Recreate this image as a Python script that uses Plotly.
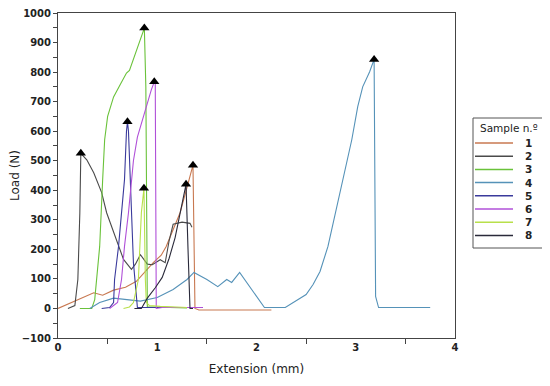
import plotly.graph_objects as go

names = ["1", "2", "3", "4", "5", "6", "7", "8"]
colors = ["#c87850", "#4a4a4a", "#6ac23a", "#5592b8", "#3a3a9c", "#b050d8", "#b8e04a", "#2a2a3a"]

s1_x = [0, 0.36, 0.45, 0.56, 0.68, 0.79, 0.96, 1.04, 1.09, 1.23, 1.30, 1.36, 1.38, 1.42, 2.15]
s1_y = [0, 53, 45, 62, 72, 92, 155, 180, 210, 324, 410, 485, 0, -5, -5]

s2_x = [0.10, 0.17, 0.20, 0.22, 0.23, 0.29, 0.36, 0.44, 0.49, 0.56, 0.61, 0.66, 0.74, 0.78, 0.83, 0.90, 0.95, 1.03, 1.08, 1.12, 1.16, 1.25, 1.33, 1.35]
s2_y = [0, 10, 98, 324, 525, 503, 459, 392, 324, 257, 210, 166, 132, 150, 182, 150, 148, 165, 155, 230, 285, 292, 288, 275]

s3_x = [0.22, 0.34, 0.37, 0.39, 0.42, 0.45, 0.47, 0.50, 0.56, 0.63, 0.69, 0.72, 0.77, 0.82, 0.87, 0.885, 0.89, 0.90, 0.95, 1.10, 1.30]
s3_y = [0, 0, 30, 98, 210, 436, 571, 650, 716, 760, 797, 806, 852, 900, 949, 750, 300, 5, 5, 3, 2]

s4_x = [0.32, 0.42, 0.56, 0.69, 0.83, 1.00, 1.16, 1.30, 1.37, 1.50, 1.61, 1.70, 1.75, 1.83, 1.93, 2.00, 2.08, 2.29, 2.50, 2.57, 2.64, 2.72, 2.81, 2.89, 2.96, 3.02, 3.07, 3.14, 3.185, 3.20, 3.23, 3.75]
s4_y = [0, 20, 35, 30, 25, 37, 64, 98, 122, 98, 74, 98, 88, 122, 74, 37, 3, 3, 47, 81, 125, 210, 345, 470, 571, 683, 750, 801, 843, 41, 3, 3]

s5_x = [0.44, 0.52, 0.56, 0.57, 0.61, 0.64, 0.67, 0.69, 0.70, 0.71, 0.73, 0.74, 0.76, 0.80, 1.00, 1.30, 1.46]
s5_y = [0, 3, 20, 98, 210, 324, 436, 600, 632, 600, 436, 324, 155, 3, 3, 3, 3]

s6_x = [0.52, 0.60, 0.64, 0.67, 0.71, 0.74, 0.76, 0.80, 0.86, 0.90, 0.94, 0.97, 0.98, 0.99, 1.05, 1.46]
s6_y = [0, 20, 98, 210, 324, 420, 500, 580, 650, 700, 740, 767, 760, 0, 3, 3]

s7_x = [0.66, 0.72, 0.76, 0.81, 0.84, 0.86, 0.866, 0.88, 0.89, 0.92, 1.03, 1.30]
s7_y = [0, 5, 20, 98, 324, 400, 407, 98, 20, 10, 7, 3]

s8_x = [0.77, 0.84, 0.90, 0.98, 1.05, 1.12, 1.18, 1.23, 1.29, 1.31, 1.33, 1.36]
s8_y = [0, 0, 35, 70, 105, 170, 240, 320, 420, 200, 0, 0]

xs = [s1_x, s2_x, s3_x, s4_x, s5_x, s6_x, s7_x, s8_x]
ys = [s1_y, s2_y, s3_y, s4_y, s5_y, s6_y, s7_y, s8_y]

x_ticks = [0, 1, 2, 3, 4]
y_ticks = [-100, 0, 100, 200, 300, 400, 500, 600, 700, 800, 900, 1000]

fig = go.Figure()
for n, c, x, y in zip(names, colors, xs, ys):
    fig.add_trace(go.Scatter(x=x, y=y, mode="lines", name=n,
                             line=dict(color=c, width=1.1), showlegend=False))

peak_x, peak_y = [], []
for x, y in zip(xs, ys):
    i = max(range(len(y)), key=lambda k: y[k])
    peak_x.append(x[i])
    peak_y.append(y[i])
fig.add_trace(go.Scatter(x=peak_x, y=peak_y, mode="markers", showlegend=False, cliponaxis=False,
                         marker=dict(symbol="triangle-up", size=9, color="black")))

tickfont = dict(family="DejaVu Sans", size=10, color="#222", weight="bold")
fig.update_xaxes(range=[0, 4], tickvals=x_ticks, ticks="", showgrid=False, zeroline=False,
                 automargin=False, ticklabeloverflow="allow",
                 showline=True, mirror=True, linecolor="#444", linewidth=1,
                 tickfont=tickfont,
                 minor=dict(tickvals=[0.5, 1.5, 2.5, 3.5], ticks="outside", ticklen=5, tickcolor="#444"),
                 title=dict(text="Extension (mm)", font=dict(family="DejaVu Sans", size=12, color="#222"), standoff=12))
fig.update_yaxes(range=[-100, 1000], tickvals=y_ticks, ticks="outside", ticklen=4, tickcolor="#444",
                 showgrid=False, zeroline=False, automargin=False, ticklabeloverflow="allow",
                 showline=True, mirror=True, linecolor="#444", linewidth=1,
                 tickfont=tickfont,
                 minor=dict(dtick=50, tick0=50, ticks="outside", ticklen=4, tickcolor="#444", showgrid=False),
                 title=dict(text="Load (N)", font=dict(family="DejaVu Sans", size=12, color="#222"), standoff=4))

# page offset (body margin) compensation: figure sits at (8, 8) on the page
OFF = 8
FW, FH = 550 - OFF, 386 - OFF
W0, W1 = 58 - OFF, 455 - OFF
H0, H1 = 13 - OFF, 338 - OFF
def px_x(p):
    return (p - OFF - W0) / (W1 - W0)
def px_y(p):
    return (H1 - (p - OFF)) / (H1 - H0)

shapes = [dict(type="rect", xref="paper", yref="paper",
               x0=px_x(473), x1=px_x(545), y0=px_y(248), y1=px_y(118),
               line=dict(color="#555", width=1), fillcolor="white")]
annotations = [dict(text="Sample n.º", xref="paper", yref="paper", x=px_x(509), y=px_y(128),
                    showarrow=False, xanchor="center", yanchor="middle",
                    font=dict(family="DejaVu Sans", size=10.5, color="#222"))]
for i, (n, c) in enumerate(zip(names, colors)):
    py = 143 + 13.2 * i
    shapes.append(dict(type="line", xref="paper", yref="paper",
                       x0=px_x(475), x1=px_x(513), y0=px_y(py), y1=px_y(py),
                       line=dict(color=c, width=1.5)))
    annotations.append(dict(text=n, xref="paper", yref="paper", x=px_x(528), y=px_y(py),
                            showarrow=False, xanchor="center", yanchor="middle",
                            font=dict(family="DejaVu Sans", size=10.5, color="#222", weight="bold")))

fig.update_layout(width=FW, height=FH,
                  margin=dict(l=W0, r=FW - W1, t=H0, b=FH - H1),
                  paper_bgcolor="white", plot_bgcolor="white",
                  shapes=shapes, annotations=annotations, showlegend=False)

fig.write_html("out.html")
